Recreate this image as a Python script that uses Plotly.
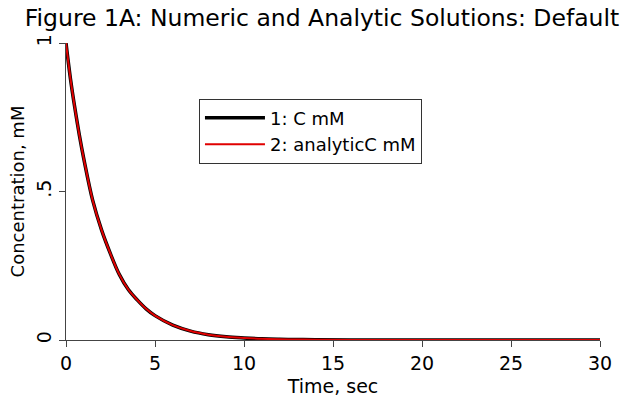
import plotly.graph_objects as go

time_s = [0, 0.25, 0.5, 0.75, 1, 1.5, 2, 2.5, 3, 3.5, 4, 4.5, 5, 6, 7, 8, 9, 10, 11, 12, 13, 14, 16, 20, 25, 30]
conc_numeric = [1.0, 0.88, 0.78, 0.69, 0.61, 0.47, 0.37, 0.29, 0.22, 0.17, 0.135, 0.105, 0.082, 0.05, 0.03, 0.018, 0.011, 0.007, 0.004, 0.0025, 0.0015, 0.001, 0.0004, 0.0, 0.0, 0.0]
conc_analytic = [1.0, 0.88, 0.78, 0.69, 0.61, 0.47, 0.37, 0.29, 0.22, 0.17, 0.135, 0.105, 0.082, 0.05, 0.03, 0.018, 0.011, 0.007, 0.004, 0.0025, 0.0015, 0.001, 0.0004, 0.0, 0.0, 0.0]

x_ticks = [0, 5, 10, 15, 20, 25, 30]
y_ticks = [0, 0.5, 1]
y_tick_labels = ["0", ".5", "1"]

font_family = "DejaVu Sans"

fig = go.Figure()
fig.add_trace(go.Scatter(x=time_s, y=conc_numeric, mode="lines", name="1: C mM",
                         line=dict(color="black", width=3.5, shape="spline")))
fig.add_trace(go.Scatter(x=time_s, y=conc_analytic, mode="lines", name="2: analyticC mM",
                         line=dict(color="#e00000", width=2, shape="spline")))

fig.update_layout(
    width=624, height=405,
    margin=dict(l=66, r=24, t=43, b=62),
    paper_bgcolor="white", plot_bgcolor="white",
    font=dict(family=font_family, size=19, color="black"),
    title=dict(text="Figure 1A: Numeric and Analytic Solutions: Default",
               x=322/624, xanchor="center", y=1 - 18/405, yanchor="middle",
               font=dict(size=23.5, family=font_family, color="black")),
    showlegend=True,
    legend=dict(x=0.249, y=0.813, xanchor="left", yanchor="top",
                bordercolor="#333333", borderwidth=1, bgcolor="white",
                font=dict(size=18, family=font_family), tracegroupgap=0,
                itemwidth=60),
    xaxis=dict(range=[0, 30], tickvals=x_ticks, showgrid=False, zeroline=False,
               showline=True, linecolor="#444444", linewidth=1,
               ticks="outside", ticklen=6, tickcolor="#444444",
               tickfont=dict(size=19), title=dict(text="Time, sec", standoff=6, font=dict(size=19))),
    yaxis=dict(range=[0, 1], tickvals=y_ticks, ticktext=y_tick_labels, showgrid=False, zeroline=False,
               showline=True, linecolor="#444444", linewidth=1,
               ticks="outside", ticklen=6, tickcolor="#444444", tickangle=-90,
               tickfont=dict(size=19), title=dict(text="Concentration, mM", standoff=4, font=dict(size=18))),
)

fig.write_html("out.html")
